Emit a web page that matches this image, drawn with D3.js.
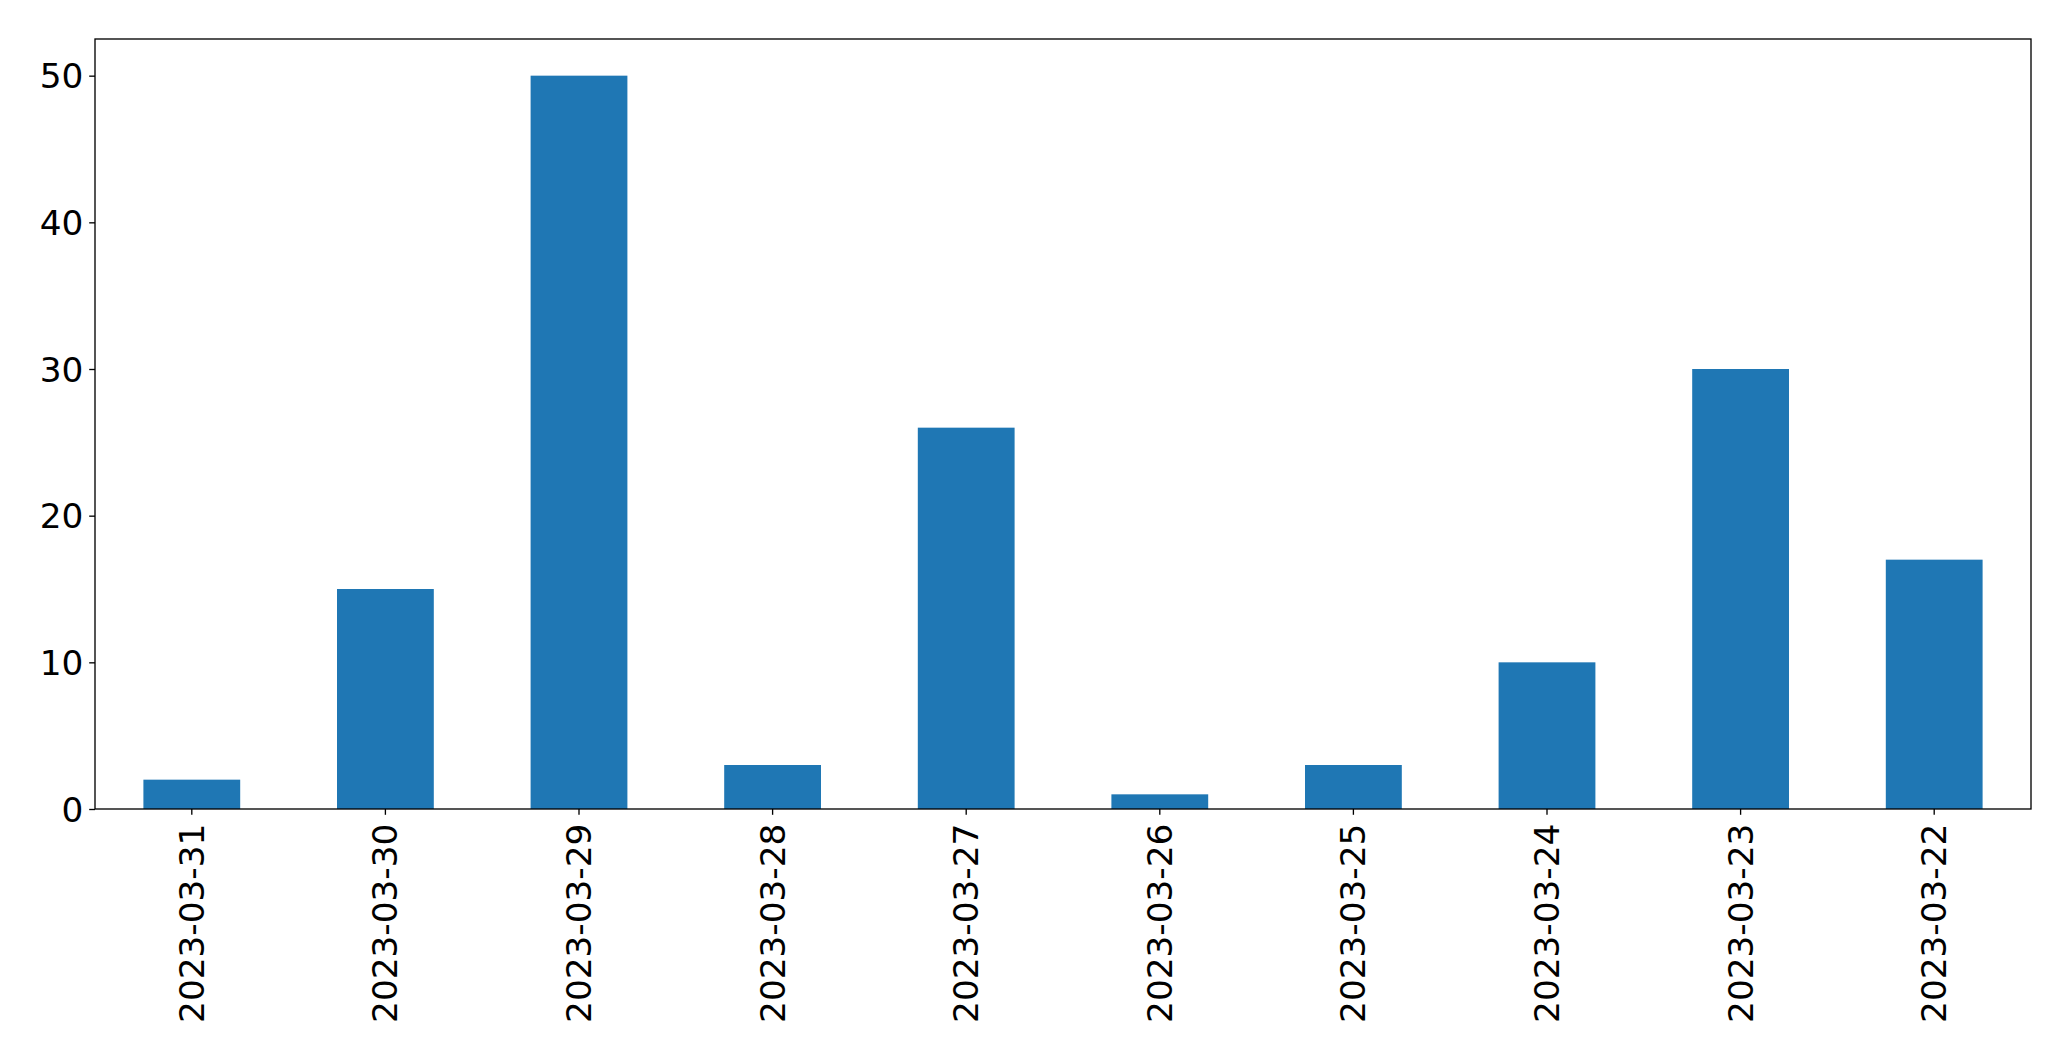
<!DOCTYPE html>
<html>
<head>
<meta charset="utf-8">
<script src="https://cdn.jsdelivr.net/npm/d3@7"></script>
<style>
  html, body { margin: 0; padding: 0; background: #fff; }
  svg { display: block; }
  text { font-family: "DejaVu Sans", sans-serif; fill: #000; }
</style>
</head>
<body>
<script>
const categories = ["2023-03-31","2023-03-30","2023-03-29","2023-03-28","2023-03-27","2023-03-26","2023-03-25","2023-03-24","2023-03-23","2023-03-22"];
const values = [2, 15, 50, 3, 26, 1, 3, 10, 30, 17];
const yTicks = [0, 10, 20, 30, 40, 50];

const W = 2071, H = 1061;
const mLeft = 95, mRight = 2031, mTop = 39, mBottom = 809;
const fontSize = 34.3;
const tickLen = 5.8, tickPad = 5.8;

const svg = d3.select("body").append("svg").attr("width", W).attr("height", H);

const x = d3.scaleBand().domain(categories).range([mLeft, mRight]).paddingInner(0.5).paddingOuter(0.25);
const y = d3.scaleLinear().domain([0, 52.5]).range([mBottom, mTop]);

svg.append("g").selectAll("rect").data(values).join("rect")
  .attr("x", (d, i) => x(categories[i]))
  .attr("width", x.bandwidth())
  .attr("y", d => y(d))
  .attr("height", d => y(0) - y(d))
  .attr("fill", "#1f77b4");

// Y axis
const yAxis = d3.axisLeft(y).tickValues(yTicks).tickSize(tickLen).tickPadding(tickPad).tickFormat(d3.format("d"));
const gy = svg.append("g").attr("transform", `translate(${mLeft},0)`).call(yAxis);
gy.select(".domain").remove();
gy.selectAll("line").attr("stroke", "#000").attr("stroke-width", 1.33);
gy.selectAll("text").attr("font-size", fontSize).attr("font-family", "DejaVu Sans").attr("dy", "0.35em");

// X axis
const xAxis = d3.axisBottom(x).tickSize(tickLen).tickPadding(tickPad);
const gx = svg.append("g").attr("transform", `translate(0,${mBottom})`).call(xAxis);
gx.select(".domain").remove();
gx.selectAll("line").attr("stroke", "#000").attr("stroke-width", 1.33);
gx.selectAll("text")
  .attr("font-size", fontSize).attr("font-family", "DejaVu Sans")
  .attr("text-anchor", "end")
  .attr("x", 0).attr("y", 0).attr("dy", "0.35em")
  .attr("transform", `translate(0,${tickLen + tickPad + 3}) rotate(-90)`);

// Frame
svg.append("rect")
  .attr("x", mLeft).attr("y", mTop)
  .attr("width", mRight - mLeft).attr("height", mBottom - mTop)
  .attr("fill", "none").attr("stroke", "#000").attr("stroke-width", 1.33);
</script>
</body>
</html>
